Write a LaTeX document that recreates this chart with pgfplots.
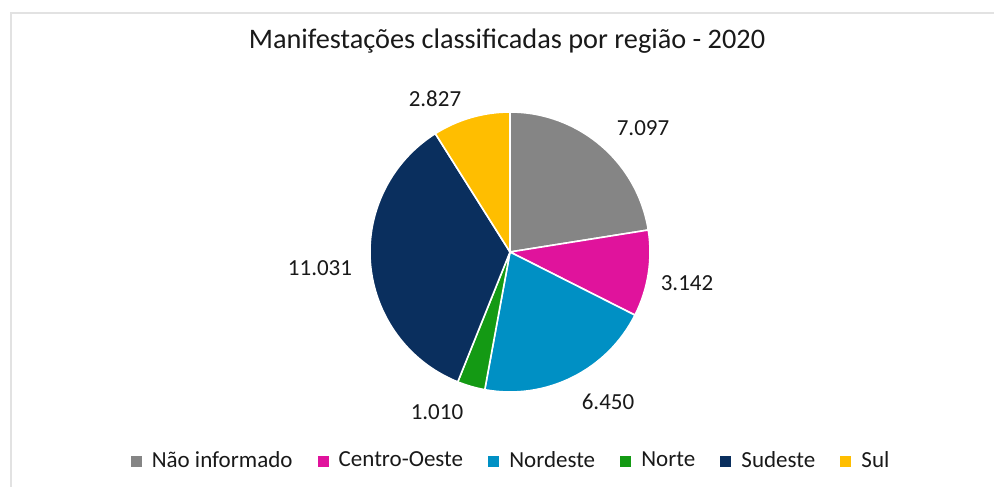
\documentclass[border=0pt]{standalone}
\usepackage{fontspec}
\setmainfont{Carlito}
\usepackage{pgfplots}
\usepackage{pgfplotstable}
\pgfplotsset{compat=1.18}

\definecolor{cNI}{HTML}{858585}
\definecolor{cCO}{HTML}{E0139C}
\definecolor{cNE}{HTML}{0090C4}
\definecolor{cN}{HTML}{149A14}
\definecolor{cSE}{HTML}{0A2F5E}
\definecolor{cS}{HTML}{FFBE00}
\definecolor{framegray}{HTML}{E2E2E2}
\colorlet{txt}{black!90}

% value = manifestations; lx/ly = label position in pixels (y from top)
\pgfplotstableread{
region value col lx ly
{Não informado} 7097 cNI 643 136
Centro-Oeste 3142 cCO 687 291
Nordeste 6450 cNE 608 409
Norte 1010 cN 437 419
Sudeste 11031 cSE 320 276
Sul 2827 cS 435 107
}\piedata

% total in thousands (keeps pgfmath in range)
\def\pietotal{0}%
\pgfplotsforeachungrouped \i in {0,...,5}{%
  \pgfplotstablegetelem{\i}{value}\of\piedata
  \pgfmathsetmacro\pietotal{\pietotal+\pgfplotsretval/1000}}%

\begin{document}
\begin{tikzpicture}
\begin{axis}[
  width=497pt, height=243.5pt, scale only axis,
  xmin=0, xmax=994, ymin=0, ymax=487,
  hide axis, clip=false,
  legend columns=-1,
  legend image code/.code={\fill[#1] (0pt,-2.5pt) rectangle (5pt,2.5pt);},
  legend style={at={(axis cs:512,26)}, anchor=center, draw=none, fill=none,
    font=\fontsize{11.5}{13}\selectfont, text=txt,
    /tikz/every odd column/.append style={column sep=3.2pt},
    /tikz/every even column/.append style={column sep=10.5pt}},
]
% chart frame (top and left edges visible)
\draw[framegray, line width=1pt] (axis cs:994,474) -- (axis cs:11,474) -- (axis cs:11,0);
\node[anchor=base, font=\fontsize{14.15}{16}\selectfont, text=txt]
  at (axis cs:507,438) {Manifestações classificadas por região - 2020};

\pgfplotsextra{%
  \def\piecum{0}%
  \pgfplotsforeachungrouped \i in {0,...,5}{%
    \pgfplotstablegetelem{\i}{value}\of\piedata \let\pieval\pgfplotsretval
    \pgfmathsetmacro\pieA{90-360*\piecum/\pietotal}%
    \pgfmathsetmacro\piecum{\piecum+\pieval/1000}%
    \pgfmathsetmacro\pieB{90-360*\piecum/\pietotal}%
    \pgfplotstablegetelem{\i}{col}\of\piedata \let\piecol\pgfplotsretval
    \fill[fill=\piecol, draw=white, line width=0.8pt, line join=round]
      (axis cs:510,235) -- ++(\pieA:70pt)
      arc[start angle=\pieA, end angle=\pieB, radius=70pt] -- cycle;
  }%
  \pgfplotsforeachungrouped \i in {0,...,5}{%
    \pgfplotstablegetelem{\i}{value}\of\piedata \let\pieval\pgfplotsretval
    \pgfplotstablegetelem{\i}{lx}\of\piedata \let\pielx\pgfplotsretval
    \pgfplotstablegetelem{\i}{ly}\of\piedata \let\piely\pgfplotsretval
    \pgfmathsetmacro\pielyy{487-\piely}%
    \node[anchor=base, font=\fontsize{11.5}{13}\selectfont, text=txt]
      at (axis cs:\pielx,\pielyy)
      {\pgfmathprintnumber[assume math mode=true, 1000 sep={.}, fixed, precision=0]{\pieval}};
  }%
}

\addlegendimage{cNI}\addlegendentry{Não informado}
\addlegendimage{cCO}\addlegendentry{Centro-Oeste}
\addlegendimage{cNE}\addlegendentry{Nordeste}
\addlegendimage{cN}\addlegendentry{Norte}
\addlegendimage{cSE}\addlegendentry{Sudeste}
\addlegendimage{cS}\addlegendentry{Sul}
\end{axis}
\pgfresetboundingbox
\useasboundingbox (current axis.south west) rectangle (current axis.north east);
\end{tikzpicture}
\end{document}
